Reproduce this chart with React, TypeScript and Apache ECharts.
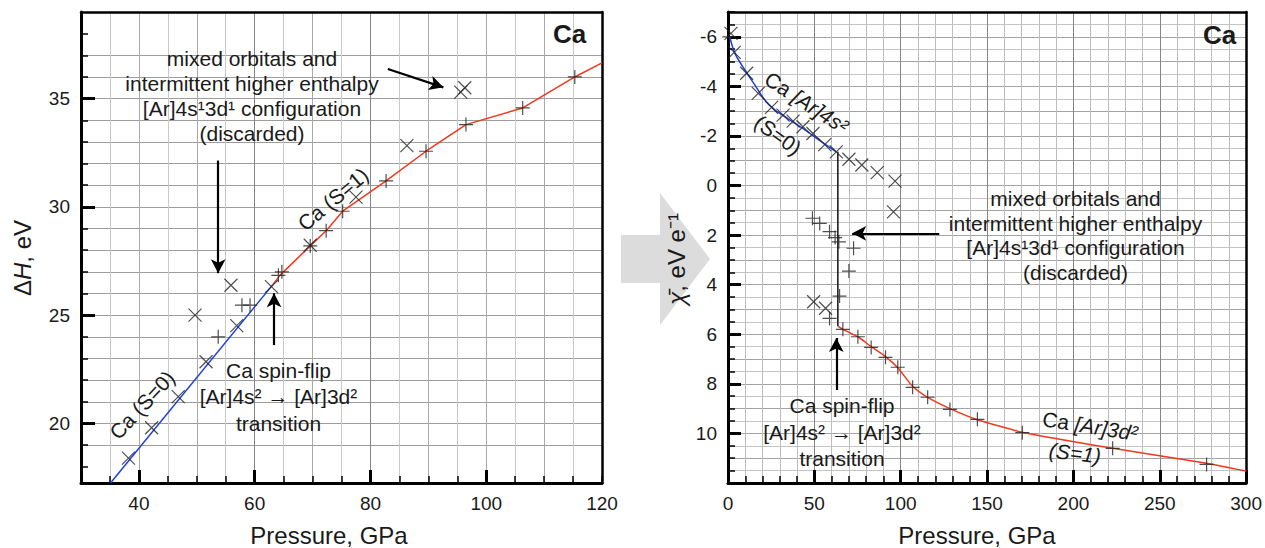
import React, { useEffect, useRef } from "react";
import * as echarts from "echarts";

// ---------- Left panel: enthalpy ΔH (eV) vs pressure (GPa) ----------
const leftBlueLine = [[35.1, 17.25], [63.1, 26.4]];
const leftRedLine = [[63.1, 26.4], [64.4, 26.85], [69.6, 28.2], [72.35, 28.9], [75.2, 29.8], [82.7, 31.2], [89.6, 32.57], [96.5, 33.8], [106.3, 34.57], [115.3, 36.0], [120, 36.65]];
const leftCrosses = [[38.2, 18.4], [42.2, 19.8], [46.8, 21.24], [49.7, 25.0], [51.6, 22.85], [55.9, 26.38], [56.9, 24.52], [62.9, 26.32], [69.6, 28.23], [77.5, 30.45], [86.3, 32.83], [95.6, 35.3], [96.3, 35.5]];
const leftPluses = [[53.7, 24.0], [57.8, 25.46], [59.2, 25.46], [64.1, 26.84], [64.7, 27.0], [69.6, 28.2], [72.35, 28.9], [75.2, 29.8], [82.7, 31.2], [89.6, 32.57], [96.5, 33.8], [106.3, 34.57], [115.3, 36.0]];
const leftArrows = [
  [[83.0, 36.37], [92.6, 35.52]],
  [[53.7, 32.14], [53.7, 26.94]],
  [[63.35, 23.62], [63.35, 26.01]],
];
const leftXTickLabels = [40, 60, 80, 100, 120];
const leftXMajorTicks = [40, 60, 80, 100];
const leftYTickLabels = [20, 25, 30, 35];
const leftYMinorTicks = [18, 19, 20, 21, 22, 23, 24, 25, 26, 27, 28, 29, 30, 31, 32, 33, 34, 35, 36, 37, 38];

// ---------- Right panel: electronegativity χ̄ (eV e⁻¹) vs pressure (GPa) ----------
const rightBlueLine = [[1.0, -6.0], [4, -5.33], [9.8, -4.66], [15.6, -4.05], [21.3, -3.45], [27.1, -3.05], [32.9, -2.78], [44.4, -2.25], [54, -1.77], [62.7, -1.36]];
const rightRedLine = [[63.6, 5.67], [66.5, 5.8], [75.2, 6.1], [82.9, 6.5], [91.2, 6.9], [98.3, 7.35], [106.9, 8.1], [115.6, 8.55], [128.5, 9.0], [144.4, 9.45], [170.4, 9.95], [222.7, 10.6], [277.1, 11.2], [300, 11.52]];
const rightSpinFlip = [[63.6, -1.36], [63.6, 5.67]];
const rightCrosses = [[1.7, -6.14], [3.6, -5.37], [10.8, -4.53], [17.5, -3.72], [25.2, -3.15], [31.9, -2.84], [37.7, -2.6], [43.4, -2.37], [49.2, -2.1], [56, -1.65], [62.7, -1.36], [70, -1.06], [77.5, -0.83], [86.4, -0.52], [96.7, -0.18], [95.8, 1.06], [49.6, 4.69], [56.5, 4.95]];
const rightPluses = [[0.8, -6.0], [48.9, 1.32], [53.1, 1.53], [58.8, 1.86], [62.0, 2.1], [64.2, 2.27], [72.7, 2.53], [70, 3.45], [64.6, 4.46], [58.8, 5.36], [66.5, 5.8], [75.2, 6.1], [82.9, 6.53], [91.2, 6.93], [98.3, 7.33], [106.9, 8.14], [115.6, 8.54], [128.5, 9.03], [144.4, 9.43], [170.4, 9.97], [222.7, 10.6], [277.1, 11.25]];
const rightArrows = [
  [[122.3, 1.93], [71.9, 1.93]],
  [[62.7, 8.25], [62.7, 6.15]],
];
const rightYTickLabels = [-6, -4, -2, 0, 2, 4, 6, 8, 10];

const FONT = "'Liberation Sans', Arial, Helvetica, sans-serif";
const INK = "#1a1a1a";
const RED = "#f2371c";
const BLUE = "#1c3fe0";
const CROSS = "path://M0,0L10,10M10,0L0,10";
const PLUS = "path://M5,0L5,10M0,5L10,5";

const LEFT_X = { min: 30, max: 120 };
const LEFT_Y = { min: 17.25, max: 39 };
const RIGHT_X = { min: 0, max: 300 };
const RIGHT_Y = { min: -7, max: 12 };

const off = { show: false };
const split = (color: string) => ({ show: true, showMinLine: false, showMaxLine: false, lineStyle: { color, width: 1 } });
const tick = (length: number, width: number, extra: any = {}) => ({ show: true, inside: true, length, lineStyle: { color: "#000", width }, ...extra });
const label = (extra: any = {}) => ({ show: true, fontFamily: FONT, fontSize: 19, color: INK, margin: 11, ...extra });
const line = (show: boolean, width = 3) => ({ show, onZero: false, lineStyle: { color: "#000", width } });

function xAx(grid: number, range: any, o: any) {
  return { type: "value", gridIndex: grid, ...range, position: o.position || "bottom", interval: o.interval, axisLine: o.axisLine || line(false), axisTick: o.axisTick || off, axisLabel: o.axisLabel || off, splitLine: o.splitLine || off };
}
function yAx(grid: number, range: any, o: any) {
  return { type: "value", gridIndex: grid, ...range, inverse: !!o.inverse, position: o.position || "left", interval: o.interval, axisLine: o.axisLine || line(false), axisTick: o.axisTick || off, axisLabel: o.axisLabel || off, splitLine: o.splitLine || off };
}

function txt(x: number, y: number, text: string, o: any = {}) {
  return {
    type: "text", x, y, rotation: o.rot || 0, z: 50,
    style: {
      text, fontFamily: FONT, fontSize: o.size || 21, fontWeight: o.weight || "normal", fontStyle: o.italic ? "italic" : "normal",
      fill: INK, align: "center", verticalAlign: "middle", lineHeight: o.lh || 25, rich: o.rich,
    },
  };
}
const deg = (d: number) => (d * Math.PI) / 180;

function arrowLines(pairs: number[][][]) {
  return {
    silent: true, symbol: ["none", "arrow"], symbolSize: [11, 14], label: { show: false },
    lineStyle: { color: "#000", width: 2.2, type: "solid" }, emphasis: { disabled: true },
    data: pairs.map(([a, b]) => [{ coord: a }, { coord: b }]),
  };
}

const markerStyle = { color: "rgba(0,0,0,0)", borderColor: "#222", borderWidth: 1.2 };

const option: any = {
  animation: false,
  backgroundColor: "#fff",
  grid: [
    { left: 81, top: 12, width: 521, height: 471, show: false },
    { left: 728, top: 12, width: 520, height: 471, show: false },
  ],
  xAxis: [
    xAx(0, LEFT_X, { interval: 5, axisTick: tick(7, 1.5), splitLine: split("#c9c9c9") }),
    xAx(0, LEFT_X, { interval: 10, splitLine: split("#a9a9a9") }),
    xAx(0, LEFT_X, { interval: 10, axisLine: line(true, 3), axisTick: tick(13, 3, { customValues: leftXMajorTicks }), axisLabel: label({ customValues: leftXTickLabels }), splitLine: split("#858585") }),
    xAx(0, LEFT_X, { position: "top", axisLine: line(true, 2.5) }),
    xAx(1, RIGHT_X, { interval: 10, axisTick: tick(7, 1.5), splitLine: split("#bdbdbd") }),
    xAx(1, RIGHT_X, { interval: 50, axisLine: line(true, 3), axisTick: tick(13, 3), axisLabel: label(), splitLine: split("#858585") }),
    xAx(1, RIGHT_X, { position: "top", axisLine: line(true, 2.5) }),
  ],
  yAxis: [
    yAx(0, LEFT_Y, { axisTick: tick(7, 1.5, { customValues: leftYMinorTicks }), splitLine: split("#9d9d9d") }),
    yAx(0, LEFT_Y, { axisLine: line(true, 3), axisTick: tick(14, 3, { customValues: leftYTickLabels }), axisLabel: label({ customValues: leftYTickLabels }) }),
    yAx(0, LEFT_Y, { position: "right", axisLine: line(true, 2.5) }),
    yAx(1, RIGHT_Y, { inverse: true, interval: 0.5, axisTick: tick(7, 1.5), splitLine: split("#c4c4c4") }),
    yAx(1, RIGHT_Y, { inverse: true, interval: 1, splitLine: split("#a3a3a3") }),
    yAx(1, RIGHT_Y, { inverse: true, axisLine: line(true, 3), axisTick: tick(13, 3, { customValues: rightYTickLabels }), axisLabel: label({ customValues: rightYTickLabels }) }),
    yAx(1, RIGHT_Y, { inverse: true, position: "right", axisLine: line(true, 2.5) }),
  ],
  series: [
    { name: "Ca (S=0)", type: "line", xAxisIndex: 0, yAxisIndex: 0, data: leftBlueLine, showSymbol: false, symbol: "none", lineStyle: { color: BLUE, width: 1.5 }, z: 3 },
    { name: "Ca (S=1)", type: "line", xAxisIndex: 0, yAxisIndex: 0, data: leftRedLine, showSymbol: false, symbol: "none", lineStyle: { color: RED, width: 1.5 }, z: 3, markLine: arrowLines(leftArrows) },
    { name: "left ×", type: "scatter", xAxisIndex: 0, yAxisIndex: 0, data: leftCrosses, symbol: CROSS, symbolSize: 13, itemStyle: markerStyle, z: 4 },
    { name: "left +", type: "scatter", xAxisIndex: 0, yAxisIndex: 0, data: leftPluses, symbol: PLUS, symbolSize: 14, itemStyle: markerStyle, z: 4 },

    { name: "Ca [Ar]4s2", type: "line", xAxisIndex: 4, yAxisIndex: 3, data: rightBlueLine, smooth: 0.3, showSymbol: false, symbol: "none", lineStyle: { color: BLUE, width: 1.5 }, z: 3 },
    { name: "Ca [Ar]3d2", type: "line", xAxisIndex: 4, yAxisIndex: 3, data: rightRedLine, smooth: 0.2, showSymbol: false, symbol: "none", lineStyle: { color: RED, width: 1.5 }, z: 3, markLine: arrowLines(rightArrows) },
    { name: "spin flip", type: "line", xAxisIndex: 4, yAxisIndex: 3, data: rightSpinFlip, showSymbol: false, symbol: "none", lineStyle: { color: "#111", width: 1.5 }, z: 3 },
    { name: "right ×", type: "scatter", xAxisIndex: 4, yAxisIndex: 3, data: rightCrosses, symbol: CROSS, symbolSize: 13, itemStyle: markerStyle, z: 4 },
    { name: "right +", type: "scatter", xAxisIndex: 4, yAxisIndex: 3, data: rightPluses, symbol: PLUS, symbolSize: 14, itemStyle: markerStyle, z: 4 },
  ],
  graphic: [
    {
      type: "polygon", z: -5, silent: true,
      shape: { points: [[621, 235], [660, 235], [660, 193], [710, 259], [660, 325], [660, 283], [621, 283]] },
      style: { fill: "#dcdcdc" },
    },
    // axis names
    txt(22, 258, "{a|Δ}{b|H}{a|, eV}", { rot: deg(90), size: 24, rich: { a: { fontFamily: FONT, fontSize: 24, fill: INK }, b: { fontFamily: FONT, fontSize: 24, fontStyle: "italic", fill: INK } } }),
    txt(676, 259, "{b|χ̄}{a|, eV e⁻¹}", { rot: deg(90), size: 24, rich: { a: { fontFamily: FONT, fontSize: 24, fill: INK }, b: { fontFamily: FONT, fontSize: 24, fontStyle: "italic", fill: INK } } }),
    txt(329, 535, "Pressure, GPa", { size: 24 }),
    txt(977, 535, "Pressure, GPa", { size: 24 }),
    // titles
    txt(569.5, 34, "Ca", { size: 26, weight: "bold" }),
    txt(1219.5, 35, "Ca", { size: 26, weight: "bold" }),
    // left annotations
    txt(252, 95.5, "mixed orbitals and\nintermittent higher enthalpy\n[Ar]4s¹3d¹ configuration\n(discarded)", { lh: 25 }),
    txt(278.5, 396.5, "Ca spin-flip\n[Ar]4s² → [Ar]3d²\ntransition", { lh: 26.5 }),
    txt(142, 405, "Ca (S=0)", { rot: deg(47) }),
    txt(333, 199, "Ca (S=1)", { rot: deg(40) }),
    // right annotations
    txt(1075.5, 235.5, "mixed orbitals and\nintermittent higher enthalpy\n[Ar]4s¹3d¹ configuration\n(discarded)", { lh: 24.7 }),
    txt(842, 432, "Ca spin-flip\n[Ar]4s² → [Ar]3d²\ntransition", { lh: 26.5 }),
    txt(806.5, 102.5, "{a|Ca }{b|[Ar]4s²}", { rot: deg(-33), rich: { a: { fontFamily: FONT, fontSize: 21, fill: INK }, b: { fontFamily: FONT, fontSize: 21, fontStyle: "italic", fill: INK } } }),
    txt(778, 135, "(S=0)", { rot: deg(-36) }),
    txt(1090, 426, "{a|Ca }{b|[Ar]3d²}", { rot: deg(-9), rich: { a: { fontFamily: FONT, fontSize: 21, fill: INK }, b: { fontFamily: FONT, fontSize: 21, fontStyle: "italic", fill: INK } } }),
    txt(1075, 453, "(S=1)", { rot: deg(-7), italic: true }),
  ],
};

export default function App() {
  const ref = useRef<HTMLDivElement>(null);
  useEffect(() => {
    const chart = echarts.init(ref.current!, null, { renderer: "svg" });
    chart.setOption(option);
    return () => chart.dispose();
  }, []);
  return <div ref={ref} style={{ position: "fixed", left: 0, top: 0, width: 1265, height: 548, background: "#fff" }} />;
}
